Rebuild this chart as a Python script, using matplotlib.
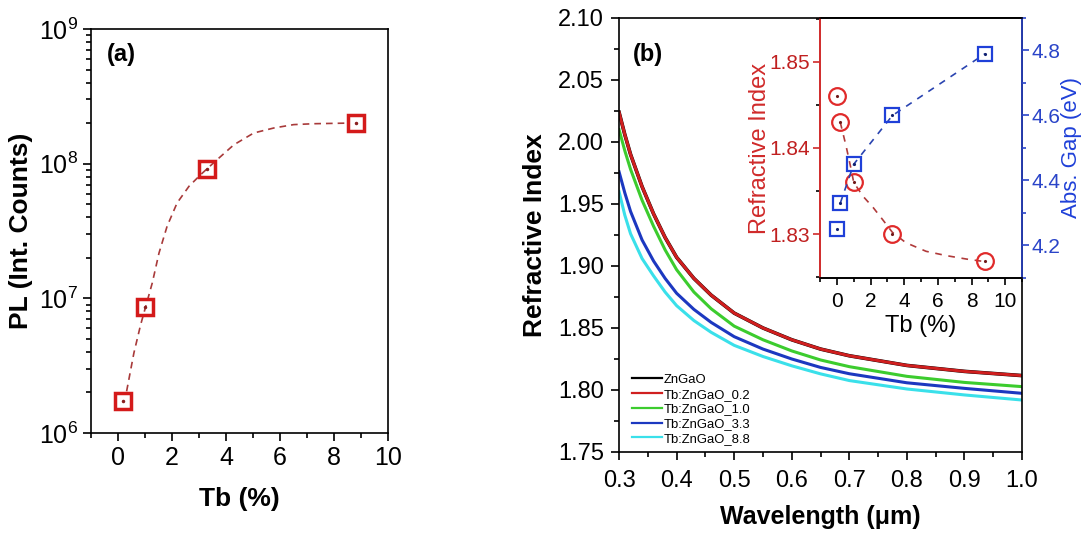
import matplotlib
matplotlib.use("Agg")
import matplotlib.pyplot as plt
from matplotlib.ticker import MultipleLocator, LogLocator, NullFormatter

plt.rcParams['font.family'] = ['Liberation Sans', 'DejaVu Sans']
plt.rcParams['mathtext.default'] = 'regular'

# ---- panel (a): PL vs Tb content ----
tb_pl = [0.2, 1.0, 3.3, 8.8]
pl_counts = [1.74e6, 8.6e6, 9.1e7, 2.0e8]
fit_tb = [0.32, 0.59, 0.84, 1.27, 1.52, 1.82, 2.19, 2.63, 3.06, 3.67, 4.29,
          5.03, 5.77, 6.51, 7.25, 8.48]
fit_pl = [2.04e6, 3.93e6, 6.37e6, 1.30e7, 2.17e7, 3.43e7, 5.11e7, 6.79e7,
          8.28e7, 1.07e8, 1.38e8, 1.69e8, 1.84e8, 1.95e8, 1.98e8, 2.00e8]

# ---- panel (b): dispersion curves ----
wavelength = [0.30, 0.31, 0.32, 0.34, 0.36, 0.38, 0.40, 0.43, 0.46, 0.50,
              0.55, 0.60, 0.65, 0.70, 0.80, 0.90, 1.00]
n_zngao = [2.024, 2.006, 1.990, 1.964, 1.942, 1.923, 1.907, 1.890, 1.8765,
           1.862, 1.850, 1.8405, 1.833, 1.8276, 1.8198, 1.8150, 1.8116]
n_tb02 = [2.024, 2.006, 1.990, 1.964, 1.942, 1.923, 1.907, 1.890, 1.8765,
          1.862, 1.850, 1.8405, 1.833, 1.8276, 1.8198, 1.8150, 1.8116]
n_tb10 = [2.010, 1.993, 1.978, 1.953, 1.932, 1.913, 1.897, 1.879, 1.8655,
          1.8515, 1.8405, 1.8315, 1.8242, 1.8188, 1.8110, 1.8061, 1.8027]
n_tb33 = [1.976, 1.959, 1.944, 1.921, 1.904, 1.890, 1.878, 1.865, 1.8545,
          1.843, 1.833, 1.825, 1.8182, 1.8131, 1.8058, 1.8013, 1.7973]
n_tb88 = [1.960, 1.941, 1.926, 1.906, 1.892, 1.879, 1.868, 1.856, 1.8465,
          1.836, 1.827, 1.8195, 1.813, 1.8076, 1.8008, 1.7960, 1.7919]

series = [("ZnGaO", n_zngao, "black"),
          ("Tb:ZnGaO_0.2", n_tb02, "#d01f1f"),
          ("Tb:ZnGaO_1.0", n_tb10, "#3ccc2e"),
          ("Tb:ZnGaO_3.3", n_tb33, "#1c38c0"),
          ("Tb:ZnGaO_8.8", n_tb88, "#3ae0ea")]

# ---- inset ----
tb_inset = [0.0, 0.2, 1.0, 3.3, 8.8]
n_inset = [1.846, 1.843, 1.836, 1.830, 1.8269]
gap_inset = [4.25, 4.33, 4.45, 4.60, 4.79]
n_fit_tb = [0.2, 0.55, 0.85, 1.0, 1.55, 2.15, 2.75, 3.3, 4.1, 5.3, 6.5, 7.7, 8.8]
n_fit = [1.8430, 1.8402, 1.8375, 1.8360, 1.8344, 1.8331, 1.8316, 1.8302,
         1.8290, 1.8280, 1.8275, 1.8271, 1.8268]

fig = plt.figure(figsize=(10.83, 5.34), dpi=100)

# panel (a)
ax1 = fig.add_axes([0.0840, 0.1891, 0.2742, 0.7566])
ax1.plot(fit_tb, fit_pl, ls=(0, (4, 3)), color="#a83a3a", lw=1.2)
ax1.plot(tb_pl, pl_counts, ls="none", marker="s", ms=11, mfc="none",
         mec="#d41a1a", mew=2.5)
ax1.plot(tb_pl, pl_counts, ls="none", marker=".", ms=3, color="#8a2020")
ax1.set_yscale("log")
ax1.set_xlim(-1, 10)
ax1.set_ylim(1e6, 1e9)
ax1.xaxis.set_major_locator(MultipleLocator(2))
ax1.xaxis.set_minor_locator(MultipleLocator(1))
ax1.yaxis.set_major_locator(LogLocator(base=10, numticks=10))
ax1.yaxis.set_minor_locator(LogLocator(base=10, subs=range(2, 10), numticks=10))
ax1.yaxis.set_minor_formatter(NullFormatter())
ax1.tick_params(which="both", direction="out", labelsize=18, width=1.2)
ax1.tick_params(which="major", length=6)
ax1.tick_params(which="minor", length=3.5)
ax1.set_xlabel("Tb (%)", fontsize=19, fontweight="bold", labelpad=12)
ax1.set_ylabel("PL (Int. Counts)", fontsize=19, fontweight="bold", labelpad=4)
ax1.text(0.054, 0.936, "(a)", transform=ax1.transAxes, fontsize=17,
         fontweight="bold", va="center")
for s in ax1.spines.values():
    s.set_linewidth(1.2)

# panel (b)
ax2 = fig.add_axes([0.5716, 0.1536, 0.3721, 0.8127])
for label, vals, col in series:
    lw = 2.6 if col == "black" else 2.2
    ax2.plot(wavelength, vals, color=col, lw=lw, label=label,
             solid_joinstyle="round")
ax2.set_xlim(0.3, 1.0)
ax2.set_ylim(1.75, 2.10)
ax2.xaxis.set_major_locator(MultipleLocator(0.1))
ax2.xaxis.set_minor_locator(MultipleLocator(0.05))
ax2.yaxis.set_major_locator(MultipleLocator(0.05))
ax2.yaxis.set_minor_locator(MultipleLocator(0.025))
ax2.xaxis.set_major_formatter(plt.FormatStrFormatter("%.1f"))
ax2.yaxis.set_major_formatter(plt.FormatStrFormatter("%.2f"))
ax2.tick_params(which="both", direction="out", labelsize=17, width=1.2)
ax2.tick_params(which="major", length=6)
ax2.tick_params(which="minor", length=3.5)
ax2.tick_params(axis="x", pad=7)
ax2.tick_params(axis="y", pad=5)
ax2.set_xlabel("Wavelength (\u03bcm)", fontsize=18, fontweight="bold", labelpad=9)
ax2.set_ylabel("Refractive Index", fontsize=19, fontweight="bold", labelpad=8)
ax2.text(0.035, 0.915, "(b)", transform=ax2.transAxes, fontsize=17,
         fontweight="bold", va="center")
leg = ax2.legend(loc="lower left", bbox_to_anchor=(0.032, 0.016), fontsize=9.4,
                 frameon=False, handlelength=2.3, handletextpad=0.15,
                 labelspacing=0.2, borderaxespad=0, borderpad=0)
for ln in leg.get_lines():
    ln.set_linewidth(1.6)
for s in ax2.spines.values():
    s.set_linewidth(1.2)

# inset
ax3 = fig.add_axes([0.7572, 0.4794, 0.1865, 0.4869])
ax3.plot(n_fit_tb, n_fit, ls=(0, (4, 4)), color="#b03a3a", lw=1.2)
ax3.plot(tb_inset, n_inset, ls="none", marker="o", ms=12, mfc="none",
         mec="#e02a2a", mew=1.6)
ax3.plot(tb_inset, n_inset, ls="none", marker=".", ms=2.5, color="#701818")
ax3.set_xlim(-1, 11)
ax3.set_ylim(1.8249, 1.8551)
ax3.xaxis.set_major_locator(MultipleLocator(2))
ax3.xaxis.set_minor_locator(MultipleLocator(1))
ax3.yaxis.set_major_locator(MultipleLocator(0.01))
ax3.yaxis.set_minor_locator(MultipleLocator(0.005))
ax3.yaxis.set_major_formatter(plt.FormatStrFormatter("%.2f"))
ax3.tick_params(which="both", direction="out", labelsize=15, width=1.2)
ax3.tick_params(which="major", length=5)
ax3.tick_params(which="minor", length=3)
ax3.tick_params(axis="x", pad=5)
ax3.tick_params(axis="y", colors="#d02a2a", labelcolor="#c02020", pad=2)
ax3.set_xlabel("Tb (%)", fontsize=17, labelpad=3)
ax3.set_ylabel("Refractive Index", fontsize=17, color="#d02a2a", labelpad=-1)
ax3.spines["left"].set_color("#d02a2a")

ax4 = ax3.twinx()
ax4.plot(tb_inset[1:], gap_inset[1:], ls=(0, (4, 4)), color="#2a44b0", lw=1.2)
ax4.plot(tb_inset, gap_inset, ls="none", marker="s", ms=10, mfc="none",
         mec="#1f40d8", mew=1.6)
ax4.plot(tb_inset, gap_inset, ls="none", marker=".", ms=2.5, color="#102070")
ax4.set_ylim(4.1, 4.9)
ax4.yaxis.set_major_locator(MultipleLocator(0.2))
ax4.yaxis.set_minor_locator(MultipleLocator(0.1))
ax4.tick_params(which="both", direction="out", labelsize=15, width=1.2,
                colors="#2a44c8")
ax4.tick_params(which="major", length=5)
ax4.tick_params(which="minor", length=3)
ax4.tick_params(axis="y", pad=2)
ax4.set_ylabel("Abs. Gap (eV)", fontsize=16, color="#1f40d8", labelpad=0)
ax4.spines["right"].set_color("#2a44c8")
ax4.spines["left"].set_color("#d02a2a")
for a in (ax3, ax4):
    for s in a.spines.values():
        s.set_linewidth(1.2)

fig.savefig("out.png", dpi=100)
